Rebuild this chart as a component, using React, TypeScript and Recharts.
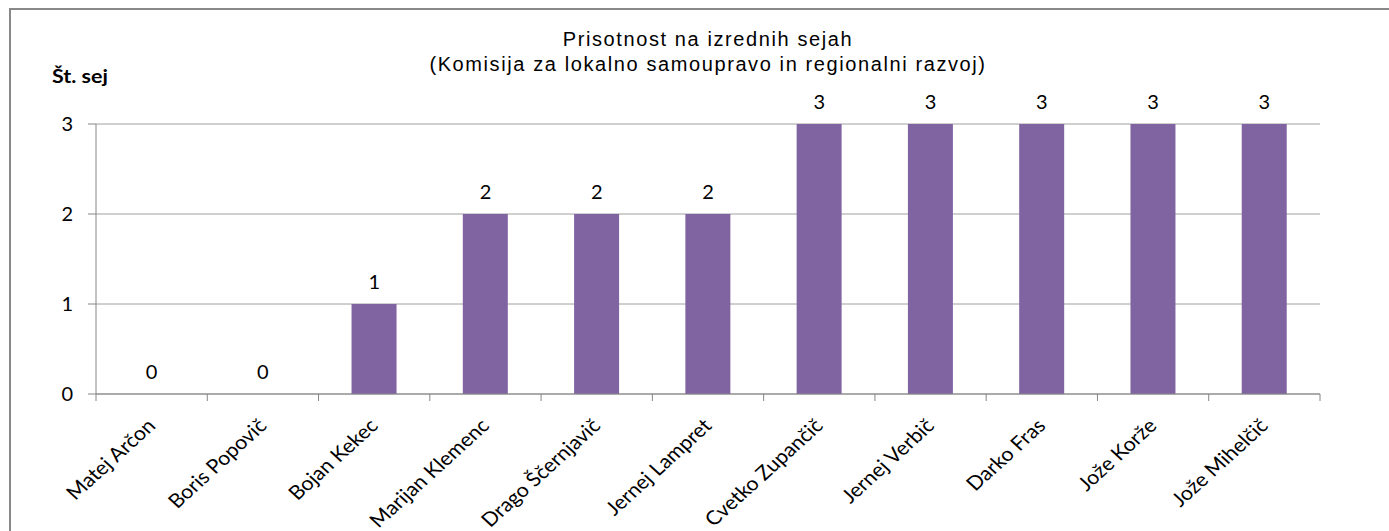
import React from "react";
import { ComposedChart, Bar, Line, XAxis, YAxis, CartesianGrid, LabelList } from "recharts";

const members = [
  "Matej Arčon",
  "Boris Popovič",
  "Bojan Kekec",
  "Marijan Klemenc",
  "Drago Ščernjavič",
  "Jernej Lampret",
  "Cvetko Zupančič",
  "Jernej Verbič",
  "Darko Fras",
  "Jože Korže",
  "Jože Mihelčič",
];
const sessions = [0, 0, 1, 2, 2, 2, 3, 3, 3, 3, 3];
const yTicks = [0, 1, 2, 3];

const data = members.map((name, i) => ({ name, sessions: sessions[i] }));

const labelFont = "Lato, 'Open Sans', sans-serif";
const axisColor = "#868686";

// the source image is stretched a little horizontally
const stretch = 1.1;

function NameTick(props: any) {
  const { x, y, payload, index } = props;
  const half = payload && payload.offset ? payload.offset : 55.6;
  const tx = x + 5;
  const ty = y + 33;
  return (
    <g>
      <line x1={x - half} y1={y} x2={x - half} y2={y + 7} stroke={axisColor} />
      {index === members.length - 1 && (
        <line x1={x + half} y1={y} x2={x + half} y2={y + 7} stroke={axisColor} />
      )}
      <text
        x={0}
        y={0}
        transform={`translate(${tx}, ${ty}) scale(${stretch}, 1) rotate(-45)`}
        textAnchor="end"
        fontFamily={labelFont}
        fontSize={19.5}
        fill="#000"
      >
        {payload.value}
      </text>
    </g>
  );
}

export default function App() {
  return (
    <div style={{ position: "relative", width: 1389, height: 531, overflow: "hidden", background: "#fff" }}>
      <style>{"body{margin:0}"}</style>
      <div
        style={{
          position: "absolute",
          left: 9,
          top: 8,
          width: 1500,
          height: 700,
          border: "2px solid #888888",
          boxSizing: "border-box",
        }}
      />
      <div
        style={{
          position: "absolute",
          left: 96,
          width: 1224,
          top: 27,
          textAlign: "center",
          fontFamily: "'Liberation Sans', Arial, sans-serif",
          fontSize: 20,
          letterSpacing: 1.6,
          lineHeight: "25px",
          color: "#000",
        }}
      >
        Prisotnost na izrednih sejah
        <br />
        (Komisija za lokalno samoupravo in regionalni razvoj)
      </div>
      <div
        style={{
          position: "absolute",
          left: 52,
          top: 64,
          fontFamily: labelFont,
          fontWeight: "bold",
          fontSize: 19.5,
          lineHeight: 1.2,
          color: "#000",
          transform: `scaleX(${stretch})`,
          transformOrigin: "left top",
        }}
      >
        Št. sej
      </div>
      <ComposedChart
        width={1389}
        height={531}
        data={data}
        margin={{ top: 124, right: 69, bottom: 0, left: 36 }}
        barCategoryGap={33}
      >
        <CartesianGrid vertical={false} stroke="#a0a0a0" />
        <XAxis
          dataKey="name"
          interval={0}
          height={137}
          stroke={axisColor}
          tickLine={false}
          tickSize={0}
          tickMargin={0}
          tick={<NameTick />}
        />
        <YAxis
          domain={[0, 3]}
          ticks={yTicks}
          width={60}
          stroke={axisColor}
          tickSize={8}
          tickMargin={15}
          tick={{ fill: "#000", fontFamily: labelFont, fontSize: 20 }}
        />
        <Bar dataKey="sessions" fill="#8064A2" isAnimationActive={false} />
        <Line
          dataKey="sessions"
          stroke="none"
          dot={false}
          activeDot={false}
          legendType="none"
          isAnimationActive={false}
        >
          <LabelList
            dataKey="sessions"
            position="top"
            offset={15}
            fill="#000"
            fontFamily={labelFont}
            fontSize={20}
          />
        </Line>
      </ComposedChart>
    </div>
  );
}
